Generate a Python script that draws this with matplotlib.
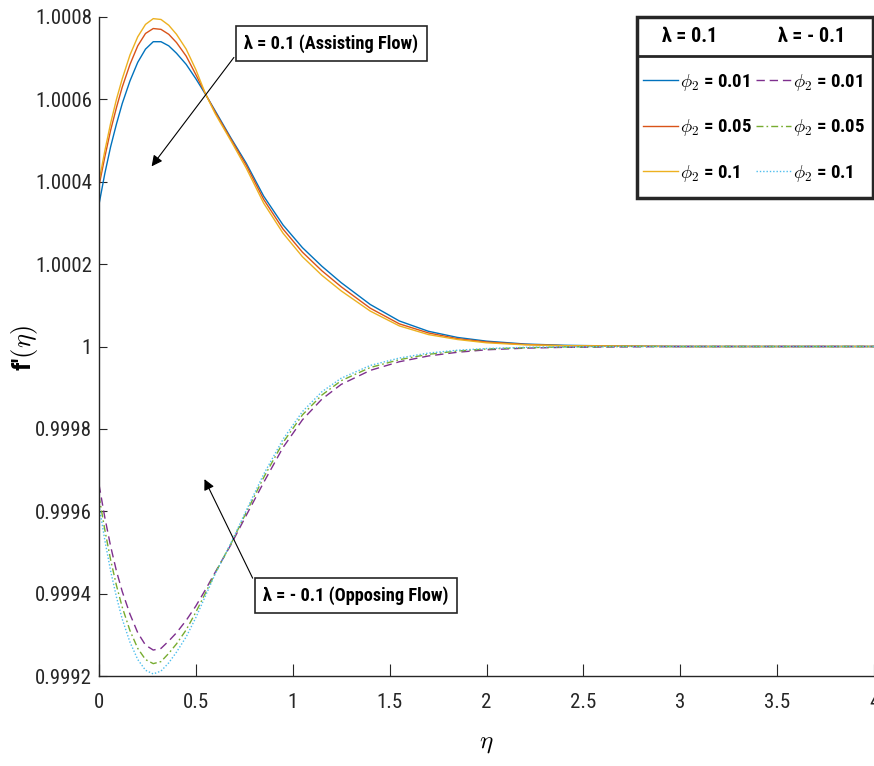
import matplotlib
matplotlib.use('Agg')
import matplotlib.pyplot as plt
import numpy as np
from matplotlib.patches import Rectangle
from matplotlib.lines import Line2D

plt.rcParams['font.family'] = ['Roboto Condensed', 'DejaVu Sans']
plt.rcParams['mathtext.fontset'] = 'cm'

# eta grid and f'(eta), stored as (f' - 1) in units of 1e-4
eta = [0, 0.03, 0.06, 0.09, 0.12, 0.16, 0.2, 0.24, 0.28, 0.32, 0.36, 0.4, 0.45, 0.5,
       0.55, 0.6, 0.68, 0.76, 0.85, 0.95, 1.05, 1.15, 1.25, 1.4, 1.55, 1.7, 1.85, 2.0,
       2.2, 2.4, 2.7, 3.0, 3.5, 4.0]

# lambda = 0.1 (assisting)
asst_001 = [3.45, 4.2, 4.85, 5.4, 5.9, 6.45, 6.9, 7.22, 7.4, 7.4, 7.3, 7.12, 6.85, 6.5,
            6.12, 5.72, 5.07, 4.45, 3.65, 2.95, 2.4, 1.95, 1.55, 1.02, 0.62, 0.37, 0.22, 0.13,
            0.06, 0.03, 0.01, 0, 0, 0]
asst_005 = [3.9, 4.6, 5.25, 5.8, 6.3, 6.85, 7.3, 7.6, 7.72, 7.7, 7.58, 7.38, 7.05, 6.6,
            6.13, 5.69, 5.04, 4.4, 3.57, 2.85, 2.29, 1.84, 1.45, 0.93, 0.55, 0.33, 0.19, 0.11,
            0.05, 0.02, 0.01, 0, 0, 0]
asst_01 = [4.0, 4.75, 5.42, 6.0, 6.5, 7.08, 7.52, 7.82, 7.96, 7.94, 7.8, 7.58, 7.22, 6.72,
           6.13, 5.65, 5.0, 4.33, 3.48, 2.75, 2.18, 1.73, 1.35, 0.86, 0.5, 0.29, 0.17, 0.09,
           0.04, 0.02, 0.01, 0, 0, 0]

# lambda = -0.1 (opposing)
opp_001 = [-3.35, -4.15, -4.85, -5.45, -5.95, -6.5, -6.95, -7.25, -7.37, -7.33, -7.15, -6.95, -6.65, -6.3,
           -5.9, -5.48, -4.82, -4.1, -3.3, -2.45, -1.78, -1.28, -0.92, -0.58, -0.37, -0.23, -0.14, -0.08,
           -0.04, -0.02, -0.01, 0, 0, 0]
opp_005 = [-3.63, -4.45, -5.18, -5.8, -6.33, -6.9, -7.33, -7.6, -7.7, -7.65, -7.45, -7.22, -6.88, -6.45,
           -5.98, -5.5, -4.8, -4.03, -3.18, -2.33, -1.66, -1.18, -0.83, -0.51, -0.32, -0.19, -0.11, -0.06,
           -0.03, -0.01, 0, 0, 0, 0]
opp_01 = [-3.85, -4.7, -5.45, -6.08, -6.62, -7.18, -7.6, -7.86, -7.95, -7.88, -7.68, -7.42, -7.05, -6.58,
          -6.05, -5.52, -4.78, -3.98, -3.1, -2.25, -1.58, -1.1, -0.77, -0.46, -0.28, -0.16, -0.09, -0.05,
          -0.02, -0.01, 0, 0, 0, 0]

labels = ['0.01', '0.05', '0.1']
xticks = [0, 0.5, 1, 1.5, 2, 2.5, 3, 3.5, 4]
xtick_labels = ['0', '0.5', '1', '1.5', '2', '2.5', '3', '3.5', '4']
yticks = [0.9992, 0.9994, 0.9996, 0.9998, 1.0, 1.0002, 1.0004, 1.0006, 1.0008]
ytick_labels = ['0.9992', '0.9994', '0.9996', '0.9998', '1', '1.0002', '1.0004', '1.0006', '1.0008']

c_asst = ['#0072BD', '#D95319', '#EDB120']
c_opp = ['#7E2F8E', '#77AC30', '#4DBEEE']
dash_opp = [(6, 3.5), (5, 2.2, 1.2, 2.2), (1, 1.4)]

W, H = 874, 766
fig = plt.figure(figsize=(W / 100, H / 100), dpi=100)
ax = fig.add_axes([99 / W, 90 / H, 775 / W, 659 / H])

eta = np.array(eta)
h1 = []
for y, c, lab in zip([asst_001, asst_005, asst_01], c_asst, labels):
    l, = ax.plot(eta, 1 + np.array(y) * 1e-4, color=c, lw=1.0, label=r'$\phi_2$ = ' + lab)
    h1.append(l)
h2 = []
for y, c, d, lab in zip([opp_001, opp_005, opp_01], c_opp, dash_opp, labels):
    l, = ax.plot(eta, 1 + np.array(y) * 1e-4, color=c, lw=1.0, dashes=d, label=r'$\phi_2$ = ' + lab)
    h2.append(l)

ax.set_xlim(0, 4)
ax.set_ylim(0.9992, 1.0008)
ax.set_xticks(xticks, xtick_labels)
ax.set_yticks(yticks, ytick_labels)
for s in ['top', 'right']:
    ax.spines[s].set_visible(False)
for s in ['left', 'bottom']:
    ax.spines[s].set_color('#262626')
    ax.spines[s].set_linewidth(1.0)
ax.tick_params(axis='both', direction='in', colors='#262626', labelsize=15, width=0.8)
ax.tick_params(axis='x', length=8.6, pad=12)
ax.tick_params(axis='y', length=5.8, pad=5)

ax.set_xlabel(r'$\eta$', fontsize=18, labelpad=14)
fig.text(25 / W, 1 - 348 / H, r"f'$(\eta)$", rotation=90, fontsize=19, fontweight='bold',
         ha='center', va='center')

# annotations
box = dict(boxstyle='square,pad=0.45', fc='white', ec='#262626', lw=1.2)
ax.annotate('λ = 0.1 (Assisting Flow)', xy=(0.263, 1.000432), xycoords='data',
            xytext=(331.5, H - 43.5), textcoords='figure pixels', ha='center', va='center',
            fontsize=13.2, fontweight='bold', bbox=box,
            arrowprops=dict(arrowstyle='-|>', color='black', lw=0.8, mutation_scale=16,
                            relpos=(0, 0.5)))
ax.annotate('λ = - 0.1 (Opposing Flow)', xy=(0.538, 0.999684), xycoords='data',
            xytext=(355.5, H - 595.5), textcoords='figure pixels', ha='center', va='center',
            fontsize=13.2, fontweight='bold', bbox=box,
            arrowprops=dict(arrowstyle='-|>', color='black', lw=0.8, mutation_scale=16,
                            relpos=(0, 0.32)))

# legend: two columns under a header row
handles = h1 + h2
leg = ax.legend(handles, [h.get_label() for h in handles], ncol=2, frameon=False,
                loc='upper left', bbox_to_anchor=(643 / W, 1 - 72 / H), bbox_transform=fig.transFigure,
                borderpad=0, borderaxespad=0, handlelength=1.85, handletextpad=0.12,
                columnspacing=0.2, labelspacing=1.3, prop={'weight': 'bold', 'size': 13.5})
leg.set_zorder(6)
ax.add_patch(Rectangle((637 / W, 1 - 198 / H), 236 / W, 181 / H, transform=fig.transFigure,
                       fc='white', ec='#262626', lw=2.5, zorder=5, clip_on=False))
ax.add_line(Line2D([637 / W, 873 / W], [1 - 56 / H, 1 - 56 / H], transform=fig.transFigure,
                   color='#262626', lw=2.0, zorder=5, clip_on=False))
ax.text(690 / W, 1 - 37 / H, 'λ = 0.1', transform=fig.transFigure, fontsize=14.5,
        fontweight='bold', ha='center', va='center', zorder=6)
ax.text(812 / W, 1 - 37 / H, 'λ = - 0.1', transform=fig.transFigure, fontsize=14.5,
        fontweight='bold', ha='center', va='center', zorder=6)

fig.savefig('out.png', dpi=100)
